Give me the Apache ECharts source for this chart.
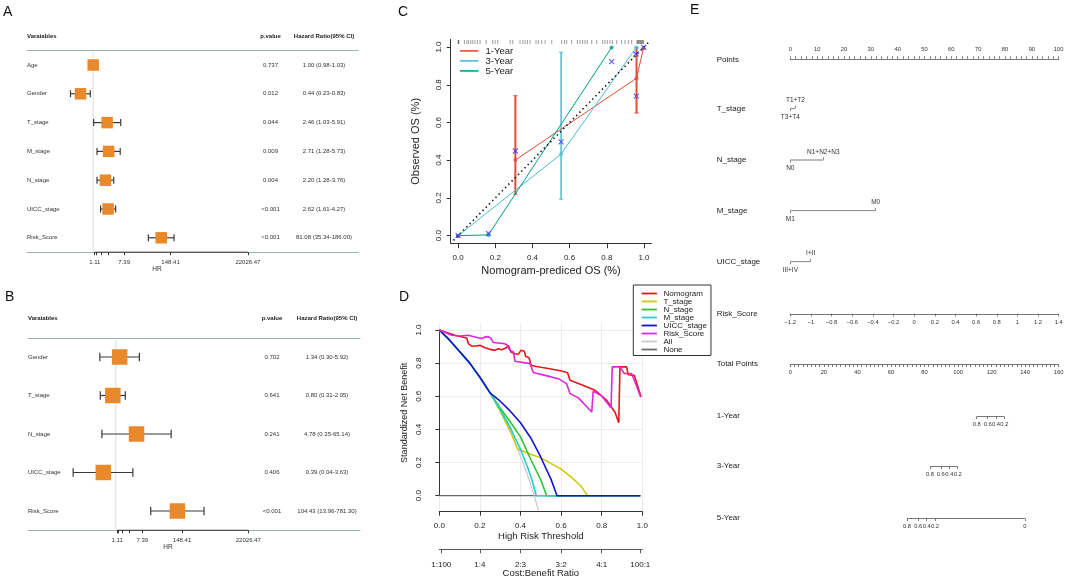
<!DOCTYPE html>
<html>
<head>
<meta charset="utf-8">
<script src="https://cdn.jsdelivr.net/npm/echarts@6/dist/echarts.min.js"></script>
<style>
  html, body { margin: 0; padding: 0; background: #fff; }
  #main { width: 1065px; height: 580px; }
</style>
</head>
<body>
<div id="main"></div>
<script>
// ---- A: univariate cox ----
var aNames = ['Age', 'Gender', 'T_stage', 'M_stage', 'N_stage', 'UICC_stage', 'Risk_Score'];
var aHR = [1.00, 0.44, 2.46, 2.71, 2.20, 2.62, 81.08];
var aLo = [0.98, 0.23, 1.03, 1.28, 1.28, 1.61, 35.34];
var aHi = [1.03, 0.83, 5.91, 5.73, 3.76, 4.27, 186.00];
var aP = ['0.737', '0.012', '0.044', '0.009', '0.004', '<0.001', '<0.001'];

// ---- B: multivariate cox ----
var bNames = ['Gender', 'T_stage', 'N_stage', 'UICC_stage', 'Risk_Score'];
var bHR = [1.34, 0.80, 4.78, 0.39, 104.43];
var bLo = [0.30, 0.31, 0.35, 0.04, 13.96];
var bHi = [5.92, 2.05, 65.14, 3.63, 781.30];
var bP = ['0.702', '0.641', '0.241', '0.406', '<0.001'];

// HR axis ticks (log scale, natural log units)
var hrTicks = [0.1, 0.2, 0.5, 1, 2, 5, 10];
var hrTickLabels = [0.1, 2, 5, 10];

// ---- C: calibration ----
var cal1X = [0.308, 0.960, 0.997], cal1Y = [0.401, 0.835, 0.993];
var cal1Lo = [0.219, 0.650, 0.993], cal1Hi = [0.742, 0.995, 0.993];
var cal3X = [0.0, 0.554, 0.959], cal3Y = [0.0, 0.433, 0.998];
var cal3Lo = [0.0, 0.193, 0.998], cal3Hi = [0.0, 0.972, 0.998];
var cal5X = [0.0, 0.163, 0.826], cal5Y = [0.0, 0.004, 0.998];
var calBiasX = [0.0, 0.163, 0.308, 0.554, 0.826, 0.959, 0.957, 0.999];
var calBiasY = [0.0, 0.012, 0.449, 0.497, 0.923, 0.740, 0.963, 0.998];
var calRug = [0, 0.002, 0.004, 0.034, 0.047, 0.056, 0.068, 0.079, 0.091, 0.104, 0.118, 0.151,
  0.186, 0.199, 0.213, 0.28, 0.294, 0.333, 0.348, 0.36, 0.373, 0.387, 0.419, 0.432, 0.45,
  0.468, 0.504, 0.557, 0.572, 0.584, 0.611, 0.642, 0.656, 0.67, 0.683, 0.695, 0.719, 0.746,
  0.778, 0.79, 0.803, 0.817, 0.83, 0.853, 0.88, 0.898, 0.916, 0.934, 0.962, 0.966, 0.97,
  0.974, 0.978, 0.982, 0.986, 0.99, 0.994, 0.998];

// ---- D: decision curves (threshold, standardized net benefit) ----
var dcaNone = [[0, 0], [0.99, 0]];
var dcaAll = [[0, 1], [0.05, 0.94], [0.1, 0.87], [0.15, 0.8], [0.2, 0.715], [0.25, 0.62],
  [0.3, 0.51], [0.35, 0.385], [0.4, 0.24], [0.43, 0.14], [0.45, 0.067], [0.47, -0.01], [0.488, -0.088]];
var dcaNomogram = [[0, 1], [0.077, 0.968], [0.135, 0.952], [0.143, 0.918], [0.159, 0.903],
  [0.184, 0.903], [0.2, 0.908], [0.225, 0.893], [0.25, 0.883], [0.274, 0.877], [0.291, 0.887],
  [0.307, 0.881], [0.329, 0.891], [0.34, 0.908], [0.353, 0.867], [0.373, 0.857], [0.389, 0.853],
  [0.402, 0.877], [0.419, 0.871], [0.425, 0.841], [0.442, 0.833], [0.452, 0.787], [0.471, 0.781],
  [0.537, 0.767], [0.603, 0.752], [0.632, 0.742], [0.644, 0.696], [0.701, 0.67], [0.767, 0.636],
  [0.824, 0.576], [0.865, 0.505], [0.884, 0.44], [0.89, 0.777], [0.923, 0.777], [0.93, 0.73],
  [0.961, 0.726], [0.972, 0.682], [0.994, 0.596]];
var dcaTStage = [[0, 1], [0.05, 0.94], [0.1, 0.87], [0.15, 0.8], [0.2, 0.715], [0.25, 0.62],
  [0.3, 0.51], [0.35, 0.39], [0.386, 0.282], [0.45, 0.25], [0.5, 0.228], [0.55, 0.195],
  [0.6, 0.16], [0.65, 0.112], [0.7, 0.055], [0.73, 0], [0.99, 0]];
var dcaNStage = [[0, 1], [0.05, 0.94], [0.1, 0.87], [0.15, 0.8], [0.2, 0.715], [0.25, 0.62],
  [0.3, 0.53], [0.35, 0.445], [0.4, 0.355], [0.45, 0.22], [0.5, 0.095], [0.529, 0], [0.99, 0]];
var dcaMStage = [[0, 1], [0.05, 0.94], [0.1, 0.87], [0.15, 0.8], [0.2, 0.715], [0.25, 0.62],
  [0.3, 0.52], [0.35, 0.41], [0.4, 0.28], [0.44, 0.155], [0.46, 0.08], [0.478, 0], [0.99, 0]];
var dcaUicc = [[0, 1], [0.05, 0.94], [0.1, 0.87], [0.15, 0.8], [0.2, 0.715], [0.25, 0.62],
  [0.3, 0.57], [0.35, 0.51], [0.4, 0.44], [0.45, 0.35], [0.5, 0.232], [0.55, 0.1], [0.58, 0], [0.99, 0]];
var dcaRisk = [[0, 1], [0.061, 0.968], [0.102, 0.964], [0.143, 0.968], [0.176, 0.958],
  [0.209, 0.948], [0.225, 0.958], [0.242, 0.96], [0.255, 0.948], [0.266, 0.924], [0.315, 0.918],
  [0.332, 0.912], [0.34, 0.903], [0.348, 0.877], [0.365, 0.867], [0.373, 0.811], [0.447, 0.797],
  [0.463, 0.743], [0.521, 0.726], [0.586, 0.706], [0.627, 0.676], [0.644, 0.616], [0.685, 0.59],
  [0.751, 0.505], [0.758, 0.63], [0.8, 0.602], [0.846, 0.53], [0.852, 0.777], [0.89, 0.777],
  [0.911, 0.737], [0.947, 0.737], [0.964, 0.686], [0.992, 0.596]];
var cbThresh = [0.0099, 0.2, 0.4, 0.6, 0.8, 0.9901];
var cbLabels = ['1:100', '1:4', '2:3', '3:2', '4:1', '100:1'];

// ---- E: nomogram ----
var eRowNames = ['Points', 'T_stage', 'N_stage', 'M_stage', 'UICC_stage', 'Risk_Score',
  'Total Points', '1-Year', '3-Year', '5-Year'];
var tStageLevels = ['T3+T4', 'T1+T2'], tStagePts = [0, 1.9];
var nStageLevels = ['N0', 'N1+N2+N3'], nStagePts = [0, 12.3];
var mStageLevels = ['M1', 'M0'], mStagePts = [0, 31.8];
var uiccLevels = ['III+IV', 'I+II'], uiccPts = [0, 7.6];
var surv1Probs = [0.8, 0.6, 0.4, 0.2], surv1Pts = [111.1, 117.7, 122.6, 127.6];
var surv3Probs = [0.8, 0.6, 0.4, 0.2], surv3Pts = [83.3, 89.7, 94.8, 99.8];
var surv5Probs = [0.8, 0.6, 0.4, 0.2, 0], surv5Pts = [69.6, 76.3, 81.3, 86.3, 139.9];

var FONT = '"Liberation Sans", Arial, Helvetica, sans-serif';
var RULE = '#9db1a7';
var BOX = '#e8892c';
var grids = [], xAxes = [], yAxes = [], series = [], graphics = [], legends = [];

function addGrid(g) {
  g.outerBoundsMode = 'none';
  g.containLabel = false;
  grids.push(g);
  return grids.length - 1;
}
function fixAxis(a) {
  a.axisLine = a.axisLine || { show: false };
  a.axisLine.onZero = false;
  if (!a.axisTick) a.axisTick = { show: false };
  if (!a.axisLabel) a.axisLabel = { show: false };
  if (!a.splitLine) a.splitLine = { show: false };
  a.nameMoveOverlap = false;
  return a;
}
function addX(a) { xAxes.push(fixAxis(a)); return xAxes.length - 1; }
function addY(a) { yAxes.push(fixAxis(a)); return yAxes.length - 1; }
function txt(x, y, s, size, o) {
  o = o || {};
  var al = o.align || 'left';
  graphics.push({
    type: 'text', x: x, y: y, silent: true, z: 20,
    style: {
      text: s, font: (o.bold ? 'bold ' : '') + size + 'px ' + FONT, fill: o.color || '#222',
      align: al, verticalAlign: 'middle', textAlign: al, textVerticalAlign: 'middle'
    }
  });
}
function minusFmt(v) {
  var r = parseFloat(v.toFixed(2));
  return (r < 0 ? '\u2212' : '') + Math.abs(r);
}

// ---------- forest plot builder ----------
function forest(c) {
  var n = c.names.length;
  var xmin = (c.left - c.zeroX) / c.ppu, xmax = (c.right - c.zeroX) / c.ppu;
  var g = addGrid({ left: c.left, top: c.top, width: c.right - c.left, height: n * c.rowH });
  var xi = addX({ gridIndex: g, type: 'value', min: xmin, max: xmax, position: 'bottom',
    axisLine: { show: true, lineStyle: { color: RULE, width: 1 } } });
  addX({ gridIndex: g, type: 'value', min: xmin, max: xmax, position: 'top',
    axisLine: { show: true, lineStyle: { color: RULE, width: 1 } } });
  addX({ gridIndex: g, type: 'value', min: xmin, max: xmax, position: 'bottom',
    axisTick: { show: true, customValues: hrTicks, length: 3, lineStyle: { color: '#333', width: 1 } },
    axisLabel: { show: true, customValues: hrTickLabels, hideOverlap: false, fontSize: 6, color: '#333',
      margin: 7, formatter: function (v) { return Math.exp(v).toFixed(2); } } });
  var yi = addY({ gridIndex: g, type: 'value', min: 0.5, max: n + 0.5, inverse: true, position: 'left', show: false });
  addY({ gridIndex: g, type: 'category', data: c.names, inverse: true, position: 'left',
    axisLabel: { show: true, interval: 0, align: 'left', margin: 0, fontSize: 6, color: '#333' } });

  [[c.pX, c.p], [c.hrX, c.hr.map(function (v, i) {
    return v.toFixed(2) + ' (' + c.lo[i].toFixed(2) + '-' + c.hi[i].toFixed(2) + ')';
  })]].forEach(function (col) {
    var gc = addGrid({ left: col[0], top: c.top, width: 1, height: n * c.rowH });
    addX({ gridIndex: gc, type: 'value', min: 0, max: 1, show: false });
    addY({ gridIndex: gc, type: 'category', data: col[1], inverse: true, position: 'left',
      axisLabel: { show: true, interval: 0, align: 'center', margin: 0, fontSize: 6, color: '#333' } });
  });

  txt(c.left, c.headY, 'Varaiables', 6, { bold: true });
  txt(c.pX, c.headY, 'p.value', 6, { bold: true, align: 'center' });
  txt(c.hrX, c.headY, 'Hazard Ratio(95% CI)', 6, { bold: true, align: 'center' });
  txt(c.hrLabX, c.hrLabY, 'HR', 6.5, { align: 'center', color: '#333' });

  series.push({ type: 'line', xAxisIndex: xi, yAxisIndex: yi, silent: true, z: 1,
    data: [[0, 0.5], [0, n + 0.5]], symbol: 'none', lineStyle: { color: '#dcdcdc', width: 1 } });
  series.push({ type: 'line', xAxisIndex: xi, yAxisIndex: yi, silent: true, z: 4, clip: false,
    data: [[hrTicks[0], n + 0.5], [hrTicks[hrTicks.length - 1], n + 0.5]], symbol: 'none',
    lineStyle: { color: '#333', width: 1 } });
  series.push({ type: 'custom', xAxisIndex: xi, yAxisIndex: yi, silent: true, z: 2,
    data: c.lo.map(function (l, i) { return [Math.log(l), Math.log(c.hi[i]), i + 1]; }),
    renderItem: function (params, api) {
      var a = api.coord([api.value(0), api.value(2)]);
      var b = api.coord([api.value(1), api.value(2)]);
      var h = c.cap / 2, st = { stroke: '#3a3a3a', lineWidth: 1.2 };
      return { type: 'group', children: [
        { type: 'line', shape: { x1: a[0], y1: a[1], x2: b[0], y2: b[1] }, style: st },
        { type: 'line', shape: { x1: a[0], y1: a[1] - h, x2: a[0], y2: a[1] + h }, style: st },
        { type: 'line', shape: { x1: b[0], y1: b[1] - h, x2: b[0], y2: b[1] + h }, style: st }
      ] };
    } });
  series.push({ type: 'scatter', xAxisIndex: xi, yAxisIndex: yi, silent: true, z: 3,
    data: c.hr.map(function (v, i) { return [Math.log(v), i + 1]; }),
    symbol: 'rect', symbolSize: c.box, itemStyle: { color: BOX, opacity: 1 } });
}

forest({ names: aNames, hr: aHR, lo: aLo, hi: aHi, p: aP, left: 27, right: 358, top: 50.6, rowH: 28.8,
  zeroX: 93.2, ppu: 15.47, pX: 270.5, hrX: 324, headY: 36, box: 11.5, cap: 7, hrLabX: 157, hrLabY: 269.3 });
forest({ names: bNames, hr: bHR, lo: bLo, hi: bHi, p: bP, left: 28, right: 360, top: 337.75, rowH: 38.5,
  zeroX: 115.8, ppu: 13.25, pX: 272, hrX: 327, headY: 318.7, box: 15.5, cap: 8.5, hrLabX: 168, hrLabY: 547 });

// ---------- C: calibration ----------
var gC = addGrid({ left: 450.7, top: 39.5, width: 200.7, height: 203.7 });
var unitTicks = [0, 0.2, 0.4, 0.6, 0.8, 1];
var xC = addX({ gridIndex: gC, type: 'value', min: -0.04, max: 1.04, position: 'bottom',
  axisLine: { show: true, lineStyle: { color: '#333', width: 1 } },
  axisTick: { show: true, customValues: unitTicks, length: 5, lineStyle: { color: '#333' } },
  axisLabel: { show: true, customValues: unitTicks, fontSize: 8, color: '#222', margin: 10.5,
    formatter: function (v) { return v.toFixed(1); } },
  name: 'Nomogram-prediced OS (%)', nameLocation: 'middle', nameGap: 22,
  nameTextStyle: { fontSize: 11, color: '#222' } });
var yC = addY({ gridIndex: gC, type: 'value', min: -0.04, max: 1.04, position: 'left',
  axisLine: { show: true, lineStyle: { color: '#333', width: 1 } },
  axisTick: { show: true, customValues: unitTicks, length: 4, lineStyle: { color: '#333' } },
  axisLabel: { show: true, customValues: unitTicks, fontSize: 8, color: '#222', margin: 7.5, rotate: 90,
    formatter: function (v) { return v.toFixed(1); } },
  name: 'Observed OS (%)', nameLocation: 'middle', nameGap: 29,
  nameTextStyle: { fontSize: 11, color: '#222' } });

function zip(xs, ys) { return xs.map(function (x, i) { return [x, ys[i]]; }); }
function errBars(xs, lo, hi, color, w) {
  series.push({ type: 'custom', xAxisIndex: xC, yAxisIndex: yC, silent: true, z: 3,
    data: xs.map(function (x, i) { return [x, lo[i], hi[i]]; }),
    renderItem: function (params, api) {
      var a = api.coord([api.value(0), api.value(1)]);
      var b = api.coord([api.value(0), api.value(2)]);
      var st = { stroke: color, lineWidth: w };
      return { type: 'group', children: [
        { type: 'line', shape: { x1: a[0], y1: a[1], x2: b[0], y2: b[1] }, style: st },
        { type: 'line', shape: { x1: a[0] - 2, y1: a[1], x2: a[0] + 2, y2: a[1] }, style: { stroke: color, lineWidth: 1 } },
        { type: 'line', shape: { x1: b[0] - 2, y1: b[1], x2: b[0] + 2, y2: b[1] }, style: { stroke: color, lineWidth: 1 } }
      ] };
    } });
}
// rug of predicted values along the top
series.push({ type: 'custom', xAxisIndex: xC, yAxisIndex: yC, silent: true, z: 2,
  data: calRug.map(function (v) { return [v]; }),
  renderItem: function (params, api) {
    var p = api.coord([api.value(0), 0]);
    var top = params.coordSys.y;
    return { type: 'line', shape: { x1: p[0], y1: top + 0.5, x2: p[0], y2: top + 4.5 },
      style: { stroke: 'rgba(40,40,40,0.45)', lineWidth: 1 } };
  } });
series.push({ type: 'line', xAxisIndex: xC, yAxisIndex: yC, silent: true, z: 5, symbol: 'none',
  data: [[-0.025, -0.025], [1.03, 1.03]], lineStyle: { color: '#111', width: 1.6, type: [1.4, 3.2] } });
var calSets = [
  ['1-Year', '#E64B35', cal1X, cal1Y],
  ['3-Year', '#4DBBD5', cal3X, cal3Y],
  ['5-Year', '#00A087', cal5X, cal5Y]
];
calSets.forEach(function (s) {
  series.push({ name: s[0], type: 'line', xAxisIndex: xC, yAxisIndex: yC, symbol: 'none', z: 3,
    data: zip(s[2], s[3]), lineStyle: { color: s[1], width: 1 }, itemStyle: { color: s[1] } });
  series.push({ name: s[0] + ' points', type: 'scatter', xAxisIndex: xC, yAxisIndex: yC, z: 4,
    data: zip(s[2], s[3]), symbol: 'circle', symbolSize: 4, itemStyle: { color: s[1] } });
});
errBars(cal1X, cal1Lo, cal1Hi, '#E64B35', 2);
errBars(cal3X, cal3Lo, cal3Hi, '#4DBBD5', 1.5);
series.push({ name: 'bias-corrected', type: 'scatter', xAxisIndex: xC, yAxisIndex: yC, z: 6,
  data: zip(calBiasX, calBiasY), symbol: 'path://M0 0L10 10M10 0L0 10', symbolSize: 5,
  itemStyle: { color: 'rgba(0,0,0,0)', borderColor: '#3b3bff', borderWidth: 1.2 } });
legends.push({ left: 459.3, top: 45.9, orient: 'vertical', padding: 0, itemGap: 0,
  itemWidth: 18.4, itemHeight: 11.7, selectedMode: false, data: ['1-Year', '3-Year', '5-Year'],
  itemStyle: { opacity: 0, borderWidth: 0 },
  lineStyle: { width: 1.6 }, textStyle: { fontSize: 9.5, color: '#222', padding: [0, 0, 0, 2] } });

// ---------- D: decision curves ----------
var gD = addGrid({ left: 439.3, top: 323, width: 203, height: 188.7 });
var xD = addX({ gridIndex: gD, type: 'value', min: 0, max: 1, interval: 0.2, position: 'bottom',
  axisLine: { show: true, lineStyle: { color: '#333', width: 1 } },
  axisTick: { show: true, length: 4, lineStyle: { color: '#333' } },
  axisLabel: { show: true, fontSize: 8, color: '#222', margin: 10, formatter: function (v) { return v.toFixed(1); } },
  splitLine: { show: true, lineStyle: { color: '#ececec', width: 1 } },
  name: 'High Risk Threshold', nameLocation: 'middle', nameGap: 20, nameTextStyle: { fontSize: 9.5, color: '#222' } });
addX({ gridIndex: gD, type: 'value', min: 0, max: 1, position: 'bottom', offset: 37.6,
  axisLine: { show: true, lineStyle: { color: '#555', width: 1 } },
  axisTick: { show: true, customValues: cbThresh, length: 4, lineStyle: { color: '#555' } },
  axisLabel: { show: true, customValues: cbThresh, fontSize: 8, color: '#222', margin: 11,
    formatter: function (v) {
      var best = 0;
      cbThresh.forEach(function (t, i) { if (Math.abs(t - v) < Math.abs(cbThresh[best] - v)) best = i; });
      return cbLabels[best];
    } },
  name: 'Cost:Benefit Ratio', nameLocation: 'middle', nameGap: 19.5, nameTextStyle: { fontSize: 9.5, color: '#222' } });
var yD = addY({ gridIndex: gD, type: 'value', min: -0.0966, max: 1.042, position: 'left', show: false });
var gDa = addGrid({ left: 439.3, top: 330, width: 203, height: 165.7 });
addX({ gridIndex: gDa, type: 'value', min: 0, max: 1, show: false });
addY({ gridIndex: gDa, type: 'value', min: 0, max: 1, interval: 0.2, position: 'left',
  axisLine: { show: true, lineStyle: { color: '#333', width: 1 } },
  axisTick: { show: true, length: 4, lineStyle: { color: '#333' } },
  axisLabel: { show: true, fontSize: 8, color: '#222', margin: 17, rotate: 90, formatter: function (v) { return v.toFixed(1); } },
  splitLine: { show: true, lineStyle: { color: '#ececec', width: 1 } },
  name: 'Standardized Net Benefit', nameLocation: 'middle', nameGap: 30, nameTextStyle: { fontSize: 9, color: '#222' } });

var dcaSets = [
  ['None', '#6b6b6b', dcaNone, 1.3],
  ['All', '#c9c9c9', dcaAll, 1.2],
  ['Nomogram', '#e8141c', dcaNomogram, 1.6],
  ['T_stage', '#d2c700', dcaTStage, 1.5],
  ['N_stage', '#33c233', dcaNStage, 1.6],
  ['M_stage', '#22cfd0', dcaMStage, 1.6],
  ['UICC_stage', '#1414cc', dcaUicc, 1.6],
  ['Risk_Score', '#e024e0', dcaRisk, 1.6]
];
dcaSets.forEach(function (s) {
  series.push({ name: s[0], type: 'line', xAxisIndex: xD, yAxisIndex: yD, symbol: 'none',
    data: s[2], lineStyle: { color: s[1], width: s[3] }, itemStyle: { color: s[1] } });
});
legends.push({ left: 633.3, top: 285, orient: 'vertical', padding: [4.5, 4, 2, 7.4], itemGap: 0,
  itemWidth: 15.3, itemHeight: 9.7, selectedMode: false, borderColor: '#333', borderWidth: 1,
  backgroundColor: '#fff', lineStyle: { width: 1.8 }, itemStyle: { opacity: 0, borderWidth: 0 },
  data: ['Nomogram', 'T_stage', 'N_stage', 'M_stage', 'UICC_stage', 'Risk_Score', 'All', 'None'],
  textStyle: { fontSize: 8, color: '#222', padding: [0, 0, 0, 1.5] } });

// ---------- E: nomogram ----------
var eLeft = 790.3, eWidth = 268.4, eLine = '#555';
var eRowY = [59.3, 108.3, 160, 210.7, 261.7, 313.3, 364, 416, 466, 518];
eRowNames.forEach(function (nm, i) { txt(716.7, eRowY[i], nm, 8, { color: '#222' }); });
function eGrid(y) {
  var g = addGrid({ left: eLeft, top: y - 0.5, width: eWidth, height: 1 });
  return g;
}
function scaleAxis(g, pos, min, max, interval, minor, margin, fmt) {
  addX({ gridIndex: g, type: 'value', min: min, max: max, interval: interval, position: pos,
    axisLine: { show: true, lineStyle: { color: eLine, width: 0.8 } },
    axisTick: { show: true, length: 2.5, lineStyle: { color: eLine, width: 0.8 } },
    minorTick: { show: !!minor, splitNumber: minor || 5, length: 2.5, lineStyle: { color: eLine, width: 0.8 } },
    axisLabel: { show: true, fontSize: 5.8, color: '#333', margin: margin, hideOverlap: false, formatter: fmt } });
  addY({ gridIndex: g, type: 'value', min: 0, max: 1, show: false });
}
scaleAxis(eGrid(eRowY[0]), 'top', 0, 100, 10, 5, 6.5, minusFmt);
scaleAxis(eGrid(eRowY[5]), 'bottom', -1.2, 1.4, 0.2, 0, 5.8, minusFmt);
scaleAxis(eGrid(eRowY[6]), 'bottom', 0, 160, 20, 8, 5.3, minusFmt);

// categorical predictors: segment from lowest to highest level, labels alternate below/above
function catRow(y, levels, pts) {
  var g = eGrid(y);
  var xi = addX({ gridIndex: g, type: 'value', min: 0, max: 100, position: 'bottom' });
  addY({ gridIndex: g, type: 'value', min: 0, max: 1, show: false });
  var below = [], above = [];
  pts.forEach(function (p, i) { (i % 2 === 0 ? below : above).push(i); });
  [['bottom', below, 4.7], ['top', above, 4.2]].forEach(function (side) {
    var vals = side[1].map(function (i) { return pts[i]; });
    addX({ gridIndex: g, type: 'value', min: 0, max: 100, position: side[0],
      axisTick: { show: true, customValues: vals, length: 2, lineStyle: { color: eLine, width: 0.8 } },
      axisLabel: { show: true, customValues: vals, fontSize: 6.5, color: '#333', margin: side[2], hideOverlap: false,
        formatter: function (v) {
          var k = side[1][0];
          side[1].forEach(function (i) { if (Math.abs(pts[i] - v) < Math.abs(pts[k] - v)) k = i; });
          return levels[k];
        } } });
  });
  series.push({ type: 'line', xAxisIndex: xi, yAxisIndex: yAxes.length - 1, silent: true, symbol: 'none',
    data: [[Math.min.apply(null, pts), 0.5], [Math.max.apply(null, pts), 0.5]],
    lineStyle: { color: eLine, width: 0.8 } });
}
catRow(eRowY[1], tStageLevels, tStagePts);
catRow(eRowY[2], nStageLevels, nStagePts);
catRow(eRowY[3], mStageLevels, mStagePts);
catRow(eRowY[4], uiccLevels, uiccPts);

// survival probability scales on the total-points axis
function survRow(y, probs, pts) {
  var g = eGrid(y);
  var xi = addX({ gridIndex: g, type: 'value', min: 0, max: 160, position: 'bottom',
    axisTick: { show: true, customValues: pts, length: 2.5, lineStyle: { color: eLine, width: 0.8 } },
    axisLabel: { show: true, customValues: pts, fontSize: 5.8, color: '#333', margin: 4.8, hideOverlap: false,
      formatter: function (v) {
        var k = 0;
        pts.forEach(function (p, i) { if (Math.abs(p - v) < Math.abs(pts[k] - v)) k = i; });
        return String(probs[k]);
      } } });
  var yi = addY({ gridIndex: g, type: 'value', min: 0, max: 1, show: false });
  series.push({ type: 'line', xAxisIndex: xi, yAxisIndex: yi, silent: true, symbol: 'none', clip: false,
    data: [[pts[0], 0], [pts[pts.length - 1], 0]], lineStyle: { color: eLine, width: 0.8 } });
}
survRow(eRowY[7], surv1Probs, surv1Pts);
survRow(eRowY[8], surv3Probs, surv3Pts);
survRow(eRowY[9], surv5Probs, surv5Pts);

// panel letters
txt(3, 12, 'A', 14, { color: '#111' });
txt(5, 297, 'B', 14, { color: '#111' });
txt(398, 12, 'C', 14, { color: '#111' });
txt(399, 297, 'D', 14, { color: '#111' });
txt(690, 10, 'E', 14, { color: '#111' });

var chart = echarts.init(document.getElementById('main'));
chart.setOption({
  animation: false,
  backgroundColor: '#fff',
  textStyle: { fontFamily: FONT },
  grid: grids,
  xAxis: xAxes,
  yAxis: yAxes,
  legend: legends,
  series: series,
  graphic: graphics
});
</script>
</body>
</html>
